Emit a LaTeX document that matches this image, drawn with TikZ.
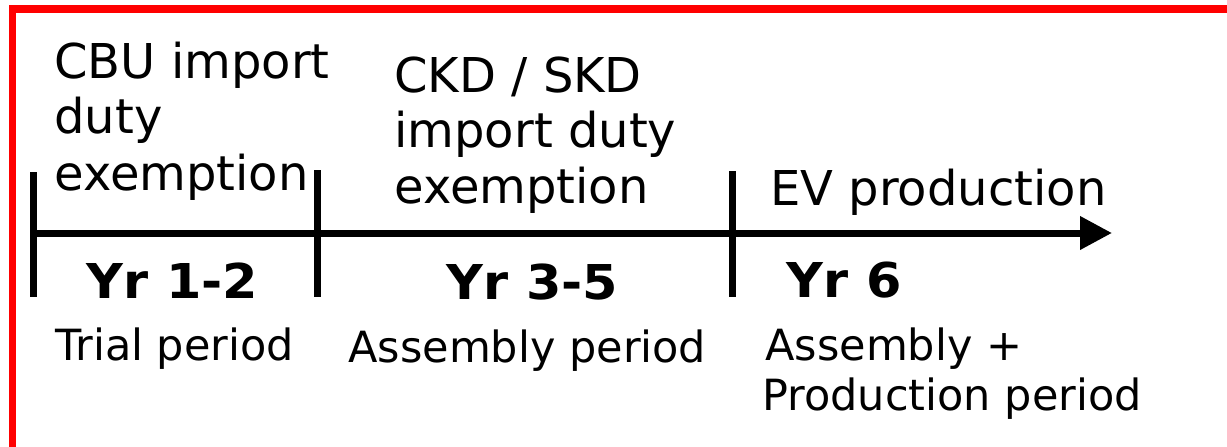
\documentclass[tikz,border=0pt]{standalone}
\usepackage{fontspec}
\setmainfont{DejaVu Sans}
\newfontfamily\yrfont[FakeStretch=1.06]{DejaVu Sans}
\usetikzlibrary{arrows.meta}
\begin{document}
\begin{tikzpicture}[x=0.5pt,y=-0.5pt,
  txt/.style={anchor=base west, inner sep=0pt, font=\fontsize{24}{28}\selectfont},
  yr/.style={anchor=base west, inner sep=0pt, font=\fontsize{24}{28}\selectfont\yrfont\bfseries},
  sub/.style={anchor=base west, inner sep=0pt, font=\fontsize{21.5}{25}\selectfont},
  axisline/.style={line width=3.5pt, -{Triangle[length=16pt,width=16pt]}},
  tickline/.style={line width=3.5pt},
  frameline/.style={draw=red, line width=3.75pt}]
\useasboundingbox (0,0) rectangle (1227,446);
\clip (0,0) rectangle (1227,446);
\draw[frameline] (12.5,8.8) rectangle (1280,500);

% axis
\coordinate (a0) at (30,233);
\coordinate (a1) at (1112,233);
\draw[axisline] (a0) -- (a1);
% ticks
\coordinate (t1a) at (33,172); \coordinate (t1b) at (33,297);
\coordinate (t2a) at (317,170); \coordinate (t2b) at (317,297);
\coordinate (t3a) at (732,171); \coordinate (t3b) at (732,297);
\draw[tickline] (t1a) -- (t1b);
\draw[tickline] (t2a) -- (t2b);
\draw[tickline] (t3a) -- (t3b);

% upper labels
\node[txt] (c1) at (54,78) {CBU import};
\node[txt] (c2) at (54,133) {duty};
\node[txt] (c3) at (54,190) {exemption};
\node[txt] (k1) at (394,92) {CKD / SKD};
\node[txt] (k2) at (394,147) {import duty};
\node[txt] (k3) at (394,203) {exemption};
\node[txt] (ev) at (770,205) {EV production};

% years
\node[yr] (y1) at (86,298) {Yr 1-2};
\node[yr] (y2) at (446,299) {Yr 3-5};
\node[yr] (y3) at (786,297) {Yr 6};

% periods
\node[sub] (p1) at (55,360) {Trial period};
\node[sub] (p2) at (348,362) {Assembly period};
\node[sub] (p3) at (765,360) {Assembly +};
\node[sub] (p4) at (762,410) {Production period};
\end{tikzpicture}
\end{document}
